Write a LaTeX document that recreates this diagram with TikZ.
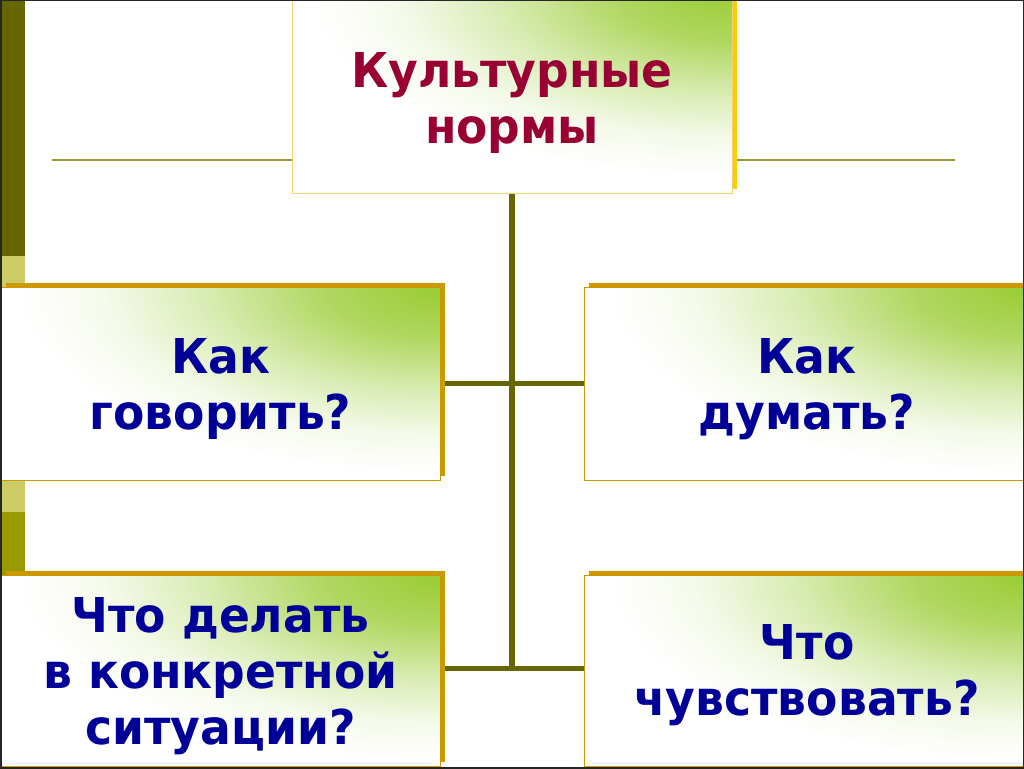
\documentclass[tikz,border=0pt]{standalone}
\usepackage{fontspec}
\setmainfont{DejaVu Sans}[FakeStretch=0.95]
\usetikzlibrary{shadows,backgrounds}
\definecolor{lgreen}{HTML}{99CC33}
\definecolor{goldc}{HTML}{CC9900}
\definecolor{ygold}{HTML}{FFCC00}
\definecolor{dolive}{HTML}{666600}
\definecolor{olivetwo}{HTML}{999900}
\definecolor{lolive}{HTML}{CCCC66}
\definecolor{lineol}{HTML}{999933}
\definecolor{navyc}{HTML}{000099}
\definecolor{winec}{HTML}{990033}
\definecolor{paleyel}{HTML}{F0D070}
\pgfdeclareradialshading{cornershade}{\pgfpointorigin}{color(0bp)=(lgreen); color(6bp)=(lgreen!78!white); color(12.5bp)=(lgreen!36!white); color(17.5bp)=(lgreen!10!white); color(22bp)=(white); color(50bp)=(white)}
\begin{document}
\begin{tikzpicture}[x=1pt,y=-1pt,
  box/.style={rectangle, draw=goldc, line width=1pt, fill=white,
    path picture={\shade[shading=cornershade] (path picture bounding box.north east)
      ellipse [x radius=480pt, y radius=212pt];},
    align=center, inner sep=0pt, font=\fontsize{48}{56}\selectfont\bfseries, text=navyc,
    general shadow={fill=goldc, shadow xshift=5pt, shadow yshift=4pt}},
  topbox/.style={box, draw=paleyel, text=winec,
    general shadow={fill=ygold, shadow xshift=5pt, shadow yshift=4pt}},
  vconn/.style={draw=dolive, line width=6.5pt},
  hconn/.style={draw=dolive, line width=5pt},
  deco/.style={draw=lineol, line width=2.5pt},
  ]
\useasboundingbox (0,0) rectangle (1024,768);
\clip (0,0) rectangle (1024,768);
% left strip
\fill[dolive] (0,0) rectangle (25,256);
\fill[lolive] (0,256) rectangle (25,290);
\fill[lolive] (0,478) rectangle (25,512);
\fill[olivetwo] (0,512) rectangle (25,575);
% boxes
\node[topbox, minimum width=440pt, minimum height=203pt] (top) at (512,91.5)
  {\rule{0pt}{59pt}Культурные\\нормы\rule[-12pt]{0pt}{12pt}};
\node[box, minimum width=439pt, minimum height=193pt] (l1) at (220.5,383.5)
  {\rule{0pt}{48pt}Как\\говорить?\rule[-12pt]{0pt}{12pt}};
\node[box, minimum width=446pt, minimum height=193pt] (r1) at (807,383.5)
  {\rule{0pt}{47pt}Как\\думать?\rule[-12pt]{0pt}{12pt}};
\node[box, minimum width=439pt, minimum height=191pt] (l2) at (220.5,670.5)
  {\rule{0pt}{47pt}Что делать\\в конкретной\\ситуации?\rule[-12pt]{0pt}{12pt}};
\node[box, minimum width=446pt, minimum height=191pt] (r2) at (807,670.5)
  {\rule{0pt}{46pt}Что\\чувствовать?\rule[-12pt]{0pt}{12pt}};
% connectors and decorative lines behind the boxes
\begin{scope}[on background layer]
  \fill[white] (0,0) rectangle (1024,768);
  \coordinate (dl) at (52,160);
  \coordinate (dr) at (955,160);
  \draw[deco] (dl) -- (dl -| top.west);
  \draw[deco] (dr) -- (dr -| top.east);
  \draw[vconn] (top.south) -- ([yshift=2pt]top.south |- l2.east);
  \draw[hconn] (l1.east) -- (r1.west);
  \draw[hconn] ([yshift=2pt]l2.east) -- ([yshift=2pt]r2.west);
\end{scope}
% slide frame
\draw[black!85, line width=3pt] (0,0) rectangle (1024,768);
\end{tikzpicture}
\end{document}
